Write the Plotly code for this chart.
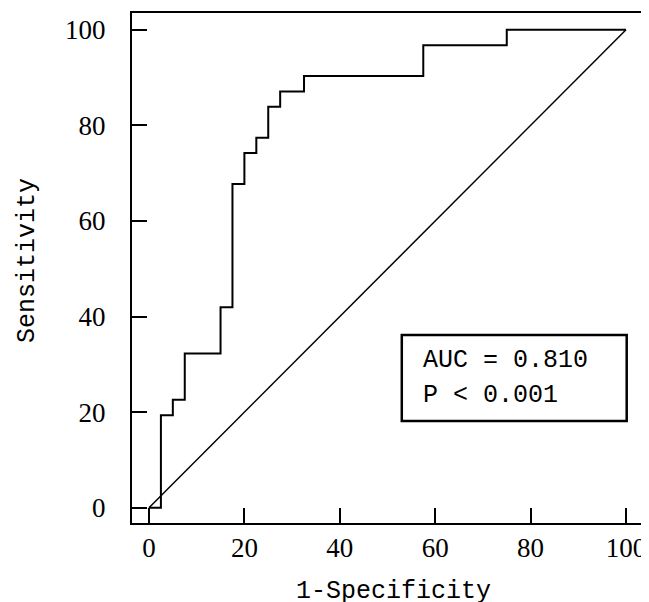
import plotly.graph_objects as go

# ROC step points (1-Specificity %, Sensitivity %)
fpr = [0, 2.5, 5, 7.5, 15, 17.5, 20, 22.5, 25, 27.5, 32.5, 57.5, 75, 100]
tpr = [0, 19.35, 22.58, 32.26, 41.94, 67.74, 74.19, 77.42, 83.87, 87.10, 90.32, 96.77, 100, 100]
ref_x = [0, 100]
ref_y = [0, 100]
tick_vals = [0, 20, 40, 60, 80, 100]
tick_text = ["0", "20", "40", "60", "80", "100"]
auc_text = "AUC = 0.810"
p_text = "P < 0.001"
x_title = "1-Specificity"
y_title = "Sensitivity"

FONT = "Liberation Serif"
TFONT = "Liberation Mono"

fig = go.Figure()
fig.add_trace(go.Scatter(x=ref_x, y=ref_y, mode="lines",
                         line=dict(color="black", width=1.5), showlegend=False))
fig.add_trace(go.Scatter(x=fpr, y=tpr, mode="lines", line_shape="hv",
                         line=dict(color="black", width=2), showlegend=False))

axis_common = dict(
    showgrid=False, zeroline=False, showline=True, linecolor="black", linewidth=2,
    mirror=True, ticks="inside", ticklen=15, tickwidth=2, tickcolor="black",
    tickvals=tick_vals, ticktext=tick_text, automargin=False,
    tickfont=dict(family=FONT, size=27, color="black"),
)
fig.update_xaxes(range=[-3.56, 103.35], ticklabelstandoff=0, **axis_common)
fig.update_yaxes(range=[-3.18, 103.5], ticklabelstandoff=19, **axis_common)

fig.add_shape(type="rect", xref="paper", yref="paper", x0=0.529, x1=0.970, y0=0.2, y1=0.3686,
              line=dict(color="black", width=2.5), fillcolor="rgba(0,0,0,0)")
fig.add_annotation(text=auc_text, xref="paper", yref="paper", x=0.567, y=0.3196,
                   xanchor="left", yanchor="middle", showarrow=False,
                   font=dict(family=TFONT, size=25, color="black"))
fig.add_annotation(text=p_text, xref="paper", yref="paper", x=0.567, y=0.2509,
                   xanchor="left", yanchor="middle", showarrow=False,
                   font=dict(family=TFONT, size=25, color="black"))
fig.add_annotation(text=y_title, xref="paper", yref="paper", x=-0.204, y=0.5157,
                   xanchor="center", yanchor="middle", textangle=-90, showarrow=False,
                   font=dict(family=TFONT, size=25, color="black"))
fig.add_annotation(text=x_title, xref="paper", yref="paper", x=0.512, y=-0.134,
                   xanchor="center", yanchor="middle", showarrow=False,
                   font=dict(family=TFONT, size=25, color="black"))

# page body adds an 8px offset; margins compensate so the plot frame lands at 132..642 x 13..523
fig.update_layout(width=641, height=594, margin=dict(l=124, r=7, t=5, b=79),
                  paper_bgcolor="white", plot_bgcolor="white")
fig.write_html("out.html")
